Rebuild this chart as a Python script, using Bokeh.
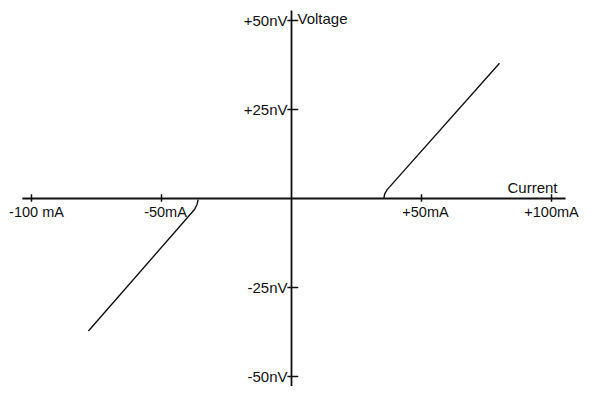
from bokeh.plotting import figure
from bokeh.models import Range1d, ColumnDataSource
from bokeh.embed import file_html
from bokeh.resources import INLINE
from bokeh.core.properties import value

# ---- data (mA, nV) ----
x_tick_vals = [-100, -50, 50, 100]
x_tick_labels = ["-100 mA", "-50mA", "+50mA", "+100mA"]
y_tick_vals = [50, 25, -25, -50]
y_tick_labels = ["+50nV", "+25nV", "-25nV", "-50nV"]

right_current = [35.5, 35.9, 36.8, 80.0]
right_voltage = [0.0, 1.4, 2.5, 38.0]
left_current = [-35.9, -36.3, -37.3, -78.1]
left_voltage = [-0.3, -1.6, -3.1, -37.2]

x_axis_span = [-103.5, 105.4]
y_axis_span = [52.8, -53.0]

FONT = value("Liberation Sans")
INK = "#111111"

p = figure(width=580, height=386, output_backend="svg", toolbar_location=None,
           x_range=Range1d(-111.92, 111.15), y_range=Range1d(-52.81, 55.62),
           min_border=0)
p.axis.visible = False
p.grid.visible = False
p.outline_line_color = None
p.background_fill_color = "white"
p.border_fill_color = "white"

# axes
p.line(x_axis_span, [0, 0], line_color=INK, line_width=1.8)
p.line([0, 0], y_axis_span, line_color=INK, line_width=1.8)

# ticks
for xv in x_tick_vals:
    p.line([xv, xv], [1.2, -0.9], line_color=INK, line_width=1.5)
for yv in y_tick_vals:
    p.line([-1.6, 2.6], [yv, yv], line_color=INK, line_width=1.5)

# tick labels
xlab = ColumnDataSource(dict(x=x_tick_vals, y=[0] * len(x_tick_vals),
                             t=x_tick_labels, xo=[5, 4, 4, 0]))
p.text(x="x", y="y", text="t", source=xlab, x_offset="xo",
       text_align="center", text_baseline="top", y_offset=5,
       text_font=FONT, text_font_size="14.5px", text_color=INK)
p.text(x=[0] * len(y_tick_vals), y=y_tick_vals, text=y_tick_labels,
       text_align="right", text_baseline="alphabetic", x_offset=-4, y_offset=0,
       text_font=FONT, text_font_size="15px", text_color=INK)

# axis titles
p.text(x=[0], y=[50], text=["Voltage"], text_align="left", text_baseline="alphabetic",
       x_offset=6, y_offset=-2, text_font=FONT, text_font_size="15px", text_color=INK)
p.text(x=[100], y=[0], text=["Current"], text_align="right", text_baseline="alphabetic",
       x_offset=6, y_offset=-11, text_font=FONT, text_font_size="15px", text_color=INK)

# curves
p.line(right_current, right_voltage, line_color=INK, line_width=1.4)
p.line(left_current, left_voltage, line_color=INK, line_width=1.4)

open("out.html", "w").write(file_html(p, INLINE))
